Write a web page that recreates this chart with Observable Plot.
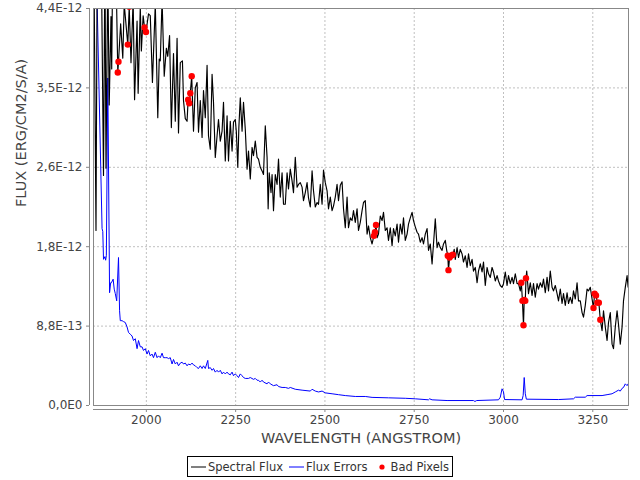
<!DOCTYPE html>
<html>
<head>
<meta charset="utf-8">
<script src="https://cdn.jsdelivr.net/npm/d3@7"></script>
<script src="https://cdn.jsdelivr.net/npm/@observablehq/plot@0.6"></script>
<style>
  html, body { margin: 0; padding: 0; background: #fff; }
  #chart { width: 640px; }
  #legend { display: flex; justify-content: center; margin-top: 6px; }
  #legend .box { border: 1px solid #000; display: flex; align-items: center; height: 19px; padding: 0 3px 0 3px;
    font-family: "DejaVu Sans", sans-serif; font-size: 11.5px; color: #333; }
  #legend .item { display: flex; align-items: center; margin-right: 6px; }
  #legend .item:last-child { margin-right: 0; }
  #legend svg { margin-right: 2px; }
</style>
</head>
<body>
<div id="chart"></div>
<div id="legend"></div>
<script>
// ---- data (flux in units of 1E-12 erg/cm2/s/A) ----
const fluxWave = [1853,1859,1863,1868,1874,1880,1884,1887,1892,1896,1901,1903,1905,1910,1916,1920,1922,1928,1934,1938,
1948,1952,1957,1963,1967,1974,1977,1983,1986,1991,1995,1999,2006,2011,2017,2025,2032,2036,2039,2044,
2050,2056,2060,2065,2070,2076,2081,2086,2090,2095,2101,2104,2109,2114,2117,2120,2123,2127,2132,2137,
2142,2146,2151,2156,2160,2165,2170,2174,2179,2184,2188,2193,2198,2202,2207,2212,2216,2221,2226,2230,
2235,2240,2244,2249,2252,2256,2259,2263,2268,2272,2277,2282,2286,2291,2296,2300,2305,2310,2314,2319,
2324,2328,2333,2338,2341,2344,2349,2352,2356,2361,2366,2370,2375,2380,2384,2389,2394,2398,2403,2408,
2412,2417,2422,2426,2431,2436,2440,2445,2450,2454,2459,2464,2468,2473,2478,2482,2487,2492,2496,2501,
2506,2510,2515,2520,2524,2529,2534,2538,2543,2548,2552,2557,2562,2566,2571,2576,2580,2585,2590,2594,
2599,2604,2608,2613,2618,2622,2627,2632,2637,2640,2643,2646,2650,2655,2660,2664,2669,2674,2678,2683,
2688,2692,2697,2702,2706,2711,2716,2720,2725,2730,2734,2739,2744,2748,2753,2758,2762,2767,2772,2776,
2781,2786,2790,2795,2800,2804,2809,2814,2818,2823,2828,2832,2837,2841,2844,2846,2849,2853,2858,2862,
2865,2870,2874,2879,2884,2888,2893,2898,2902,2907,2912,2916,2921,2926,2930,2935,2940,2944,2949,2954,
2958,2963,2968,2972,2977,2982,2986,2991,2996,3000,3005,3010,3014,3019,3024,3028,3033,3038,3042,3047,
3050,3053,3056,3058,3061,3063,3065,3070,3075,3080,3084,3089,3094,3098,3103,3108,3112,3117,3122,3126,
3131,3136,3140,3145,3150,3154,3159,3164,3168,3173,3178,3182,3187,3192,3196,3201,3206,3210,3215,3220,
3224,3229,3234,3238,3243,3248,3252,3255,3259,3263,3267,3271,3276,3280,3285,3290,3294,3299,3304,3308,
3313,3318,3322,3327,3332,3336,3341,3346,3349];
const fluxValue = [5.0,1.94,5.5,5.5,4.9,2.55,5.0,2.63,4.8,3.33,4.31,3.73,4.6,4.5,4.6,3.69,3.81,4.23,3.85,4.45,
4.00,4.42,3.80,4.5,3.39,4.26,3.46,4.42,3.93,4.32,4.19,4.14,4.34,4.32,3.58,4.45,3.19,3.84,3.82,4.5,
3.65,3.96,3.87,4.10,3.08,3.90,3.15,4.07,3.02,3.80,3.82,3.38,3.18,3.15,3.39,3.35,3.46,3.65,3.04,3.52,
3.58,3.03,3.38,2.97,3.49,3.19,3.77,2.99,2.84,3.67,3.36,2.75,2.99,3.17,2.93,3.04,3.36,2.71,3.21,2.71,
3.15,2.82,3.14,3.17,3.03,2.64,3.08,3.41,3.04,3.36,3.06,2.62,2.82,2.51,2.86,2.77,2.93,2.75,2.73,2.64,
2.60,2.56,3.10,2.75,2.18,2.58,2.36,2.56,2.16,2.56,2.45,2.73,2.31,2.58,2.23,2.23,2.58,2.40,2.62,2.49,
2.36,2.75,2.42,2.45,2.47,2.42,2.27,2.36,2.47,2.30,2.20,2.60,2.38,2.20,2.25,2.23,2.45,2.23,2.61,2.47,
2.38,2.18,2.31,2.16,2.21,2.31,2.45,2.27,2.44,2.48,2.18,1.97,2.31,1.97,2.08,2.05,2.16,2.03,2.18,1.94,
2.03,2.16,2.25,2.27,1.90,1.99,1.86,1.79,1.88,1.92,2.00,1.86,1.90,2.10,2.05,2.14,1.94,1.97,1.83,1.97,
1.77,1.96,1.88,2.01,1.81,2.01,1.90,2.08,1.83,1.90,2.01,2.08,2.14,2.05,1.98,1.92,1.90,1.81,1.86,1.79,
1.90,1.96,1.72,1.79,1.57,1.79,2.07,1.75,1.81,1.75,1.72,1.79,1.83,1.72,1.66,1.50,1.64,1.66,1.67,1.73,
1.62,1.75,1.64,1.73,1.68,1.59,1.66,1.53,1.68,1.55,1.62,1.49,1.53,1.36,1.49,1.57,1.48,1.59,1.33,1.53,
1.46,1.42,1.53,1.48,1.38,1.44,1.38,1.33,1.31,1.35,1.48,1.33,1.44,1.35,1.42,1.35,1.46,1.35,1.35,1.27,
1.36,1.16,0.89,1.17,1.16,1.41,1.49,1.24,1.36,1.22,1.35,1.20,1.35,1.29,1.36,1.31,1.40,1.25,1.42,1.27,
1.49,1.31,1.27,1.33,1.24,1.16,1.29,1.13,1.24,1.11,1.25,1.13,1.20,1.13,1.27,1.18,1.36,1.16,1.16,1.03,
0.98,1.11,1.29,1.27,1.31,1.18,1.08,1.24,1.22,1.14,1.14,0.95,0.83,1.05,0.87,0.72,0.92,1.03,0.68,0.63,
0.87,1.05,0.90,0.68,0.87,1.16,1.31,1.44,1.31];

const errWave = [1856,1862,1876,1878,1880,1884,1886,1888,1892,1897,1900,1902,1907,1910,1913,1917,1922,1925,1927,1932,
1936,1941,1946,1950,1955,1960,1964,1969,1974,1978,1983,1988,1992,1997,2002,2006,2011,2016,2020,2025,
2030,2034,2039,2044,2048,2053,2058,2062,2067,2072,2076,2081,2086,2090,2095,2100,2104,2109,2114,2118,
2123,2128,2132,2137,2142,2146,2151,2156,2160,2165,2172,2174,2179,2184,2188,2193,2198,2202,2207,2212,
2216,2221,2226,2230,2235,2240,2244,2249,2254,2258,2263,2268,2272,2277,2286,2291,2300,2305,2310,2314,
2319,2324,2328,2338,2342,2347,2356,2366,2370,2380,2389,2398,2403,2417,2436,2459,2464,2473,2482,2492,
2501,2520,2538,2557,2585,2613,2632,2678,2725,2753,2790,2793,2800,2842,2916,2920,2925,2986,2991,2996,
3000,3003,3052,3055,3058,3061,3064,3154,3196,3201,3229,3234,3276,3290,3304,3313,3322,3327,3332,3336,
3341,3346,3349];
const errValue = [6.0,4.5,1.96,1.93,1.62,1.65,1.61,1.66,3.63,1.25,1.36,1.36,1.40,1.29,1.24,1.16,1.64,1.05,0.94,0.94,
0.93,0.92,0.87,0.81,0.79,0.77,0.72,0.74,0.63,0.72,0.65,0.65,0.61,0.63,0.57,0.61,0.55,0.57,0.53,0.59,
0.53,0.55,0.53,0.58,0.53,0.53,0.53,0.52,0.53,0.46,0.51,0.46,0.48,0.44,0.47,0.48,0.46,0.47,0.44,0.46,
0.45,0.47,0.45,0.44,0.42,0.41,0.44,0.41,0.44,0.41,0.50,0.41,0.42,0.39,0.41,0.37,0.39,0.37,0.39,0.35,
0.37,0.35,0.37,0.35,0.34,0.37,0.33,0.35,0.33,0.31,0.35,0.33,0.31,0.30,0.30,0.31,0.29,0.30,0.28,0.28,
0.26,0.28,0.26,0.24,0.26,0.24,0.22,0.23,0.21,0.20,0.20,0.19,0.20,0.18,0.17,0.16,0.18,0.16,0.15,0.16,
0.14,0.13,0.12,0.11,0.10,0.10,0.09,0.085,0.08,0.074,0.063,0.074,0.063,0.055,0.055,0.045,0.055,0.063,0.092,0.185,
0.15,0.066,0.063,0.11,0.31,0.13,0.07,0.066,0.074,0.092,0.092,0.11,0.11,0.12,0.13,0.15,0.17,0.16,0.19,0.20,
0.24,0.22,0.24];

const badWave = [1920,1922,1948,1952,1995,1999,2117,2120,2123,2127,2637,2640,2643,2844,2846,2849,2853,2858,
3050,3053,3056,3058,3061,3063,3252,3255,3259,3263,3267,3271];
const badValue = [3.69,3.81,4.00,4.42,4.19,4.14,3.39,3.35,3.46,3.65,1.88,1.92,2.00,1.66,1.50,1.64,1.66,1.67,
1.36,1.16,0.89,1.17,1.16,1.41,1.08,1.24,1.22,1.14,1.14,0.95];

const xTicks = [2000, 2250, 2500, 2750, 3000, 3250];
const xTickLabels = ["2000", "2250", "2500", "2750", "3000", "3250"];
const yTicks = [0, 0.88, 1.76, 2.64, 3.52, 4.4];
const yTickLabels = ["0,0E0", "8,8E-13", "1,8E-12", "2,6E-12", "3,5E-12", "4,4E-12"];
const xDomain = [1852, 3350];
const yDomain = [0, 4.4];
const xTitle = "WAVELENGTH (ANGSTROM)";
const yTitle = "FLUX (ERG/CM2/S/A)";
const seriesNames = ["Spectral Flux", "Flux Errors", "Bad Pixels"];

// ---- tables ----
const fluxData = fluxWave.map((w, i) => ({w, f: fluxValue[i]}));
const errData = errWave.map((w, i) => ({w, f: errValue[i]}));
const badData = badWave.map((w, i) => ({w, f: badValue[i]}));

const gridStyle = {stroke: "#c0c0c0", strokeOpacity: 1, strokeDasharray: "2,2"};
const axisGray = "#888";

const chart = Plot.plot({
  width: 640,
  height: 450,
  marginTop: 8,
  marginLeft: 93,
  marginRight: 12,
  marginBottom: 45,
  style: {fontFamily: "DejaVu Sans, sans-serif", fontSize: "12px", color: "#444", background: "#fff"},
  x: {domain: xDomain},
  y: {domain: yDomain},
  marks: [
    Plot.gridX(xTicks, gridStyle),
    Plot.gridY(yTicks, gridStyle),
    Plot.line(errData, {x: "w", y: "f", stroke: "#0000ff", strokeWidth: 1, clip: true}),
    Plot.line(fluxData, {x: "w", y: "f", stroke: "#000", strokeWidth: 1.15, clip: true}),
    Plot.dot(badData, {x: "w", y: "f", fill: "#ff0000", r: 3.2, stroke: null, clip: true}),
    Plot.frame({stroke: axisGray}),
    Plot.ruleY([yDomain[0]], {dy: 4, stroke: axisGray}),
    Plot.ruleX([xDomain[0]], {dx: -4, stroke: axisGray}),
    Plot.axisX(xTicks, {tickSize: 3, tickPadding: 3, dy: 4, stroke: axisGray, fill: "#444",
      tickFormat: d => xTickLabels[xTicks.indexOf(d)], label: null, fontSize: 12}),
    Plot.axisY(yTicks, {tickSize: 3, tickPadding: 4, dx: -4, stroke: axisGray, fill: "#444",
      tickFormat: d => yTickLabels[yTicks.indexOf(d)], label: null, fontSize: 12}),
    Plot.text([xTitle], {frameAnchor: "bottom", dy: 33, text: d => d, fontSize: 14.5, fill: "#444", lineAnchor: "middle"}),
    Plot.text([yTitle], {frameAnchor: "left", dx: -72, rotate: -90, text: d => d, fontSize: 14.5, fill: "#444", lineAnchor: "middle"})
  ]
});
document.getElementById("chart").appendChild(chart);

// ---- legend ----
const legend = document.getElementById("legend");
const box = document.createElement("div");
box.className = "box";
const swatches = [
  '<svg width="15" height="10"><line x1="0" x2="15" y1="5" y2="5" stroke="#000" stroke-width="1"/></svg>',
  '<svg width="15" height="10"><line x1="0" x2="15" y1="5" y2="5" stroke="#0000ff" stroke-width="1"/></svg>',
  '<svg width="15" height="10"><circle cx="8" cy="5" r="2.6" fill="#ff0000"/></svg>'
];
seriesNames.forEach((name, i) => {
  const item = document.createElement("div");
  item.className = "item";
  item.innerHTML = swatches[i] + "<span>" + name + "</span>";
  box.appendChild(item);
});
legend.appendChild(box);
</script>
</body>
</html>
